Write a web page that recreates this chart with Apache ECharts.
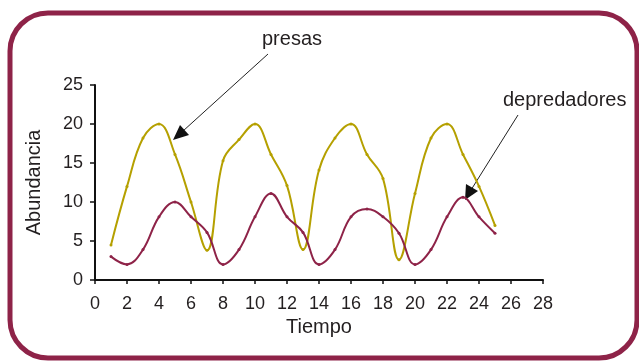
<!DOCTYPE html>
<html>
<head>
<meta charset="utf-8">
<script src="https://cdn.jsdelivr.net/npm/echarts@6/dist/echarts.min.js"></script>
<style>
  html, body { margin: 0; padding: 0; background: #fff; }
  #chart { width: 639px; height: 362px; }
</style>
</head>
<body>
<div id="chart"></div>
<script>
// tiempo 1..25
var tiempo = [1,2,3,4,5,6,7,8,9,10,11,12,13,14,15,16,17,18,19,20,21,22,23,24,25];
var presas = [4.5,12.0,18.2,20.0,16.1,10.0,3.8,15.3,18.0,20.0,16.1,12.1,3.9,14.1,18.2,20.0,16.1,13.0,2.6,11.1,18.2,20.0,16.1,12.0,7.0];
var depredadores = [3.0,2.0,3.9,8.1,10.0,8.1,6.1,2.0,3.9,8.1,11.1,8.1,6.1,2.0,3.9,8.1,9.1,8.1,6.0,2.0,3.9,8.1,10.6,8.1,6.0];

var colPresa = '#b5a000';
var colDepre = '#8e2348';
var txt = '#231f20';
var fuente = 'Liberation Sans, Arial, sans-serif';

function pares(xs, ys) {
  var out = [];
  for (var i = 0; i < xs.length; i++) out.push([xs[i], ys[i]]);
  return out;
}

var myChart = echarts.init(document.getElementById('chart'));

var option = {
  animation: false,
  backgroundColor: '#fff',
  grid: { left: 95, right: 96, top: 85, bottom: 82 },
  xAxis: {
    type: 'value', min: 0, max: 28, interval: 2,
    name: 'Tiempo', nameLocation: 'middle', nameGap: 30,
    nameTextStyle: { color: txt, fontSize: 20, fontFamily: fuente },
    axisLine: { lineStyle: { color: '#111', width: 2 } },
    axisTick: { length: 4, lineStyle: { color: '#111', width: 1.5 } },
    axisLabel: { color: txt, fontSize: 18, fontFamily: fuente, margin: 15 },
    splitLine: { show: false }
  },
  yAxis: {
    type: 'value', min: 0, max: 25, interval: 5,
    name: 'Abundancia', nameLocation: 'middle', nameGap: 51,
    nameTextStyle: { color: txt, fontSize: 20, fontFamily: fuente },
    axisLine: { show: true, lineStyle: { color: '#111', width: 2 } },
    axisTick: { show: true, length: 5, lineStyle: { color: '#111', width: 1.5 } },
    axisLabel: { color: txt, fontSize: 18, fontFamily: fuente, margin: 12 },
    splitLine: { show: false }
  },
  series: [
    {
      name: 'presas', type: 'line', smooth: 0.4,
      data: pares(tiempo, presas),
      symbol: 'circle', symbolSize: 3,
      lineStyle: { color: colPresa, width: 2 },
      itemStyle: { color: colPresa }
    },
    {
      name: 'depredadores', type: 'line', smooth: 0.4,
      data: pares(tiempo, depredadores),
      symbol: 'circle', symbolSize: 3,
      lineStyle: { color: colDepre, width: 2 },
      itemStyle: { color: colDepre }
    }
  ],
  graphic: [
    // marco redondeado
    {
      type: 'rect', z: 0,
      shape: { x: 10, y: 13, width: 627, height: 345, r: 38 },
      style: { fill: 'none', stroke: colDepre, lineWidth: 5 }
    },
    // etiquetas con flechas
    {
      type: 'text', left: 262, top: 29,
      style: { text: 'presas', fill: txt, fontSize: 20, fontFamily: fuente }
    },
    {
      type: 'line',
      shape: { x1: 268, y1: 54, x2: 183, y2: 131 },
      style: { stroke: '#222', lineWidth: 1 }
    },
    {
      type: 'polygon',
      shape: { points: [[173, 140], [180, 125], [189, 135]] },
      style: { fill: '#111' }
    },
    {
      type: 'text', left: 503, top: 90,
      style: { text: 'depredadores', fill: txt, fontSize: 20, fontFamily: fuente }
    },
    {
      type: 'line',
      shape: { x1: 518, y1: 115, x2: 471, y2: 190 },
      style: { stroke: '#222', lineWidth: 1 }
    },
    {
      type: 'polygon',
      shape: { points: [[465, 200], [466, 184], [478, 191]] },
      style: { fill: '#111' }
    }
  ]
};

myChart.setOption(option);
window.addEventListener('resize', function () {
  myChart.resize();
});
</script>
</body>
</html>
